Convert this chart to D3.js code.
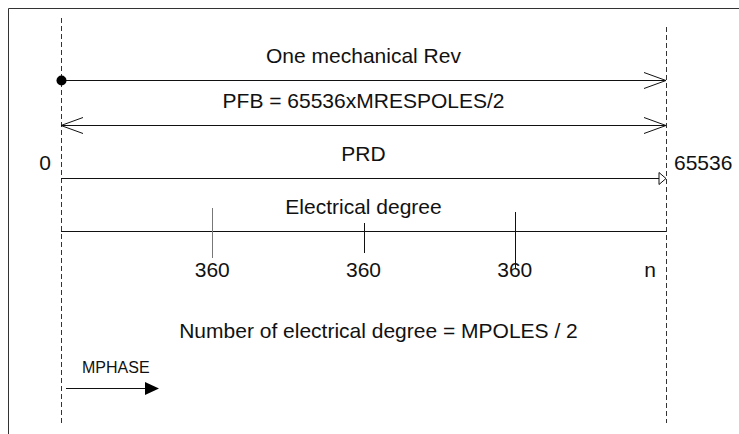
<!DOCTYPE html>
<html>
<head>
<meta charset="utf-8">
<script src="https://cdn.jsdelivr.net/npm/d3@7"></script>
<style>
  body { margin: 0; background: #fff; }
  text { font-family: "Liberation Sans", Arial, sans-serif; fill: #111; }
</style>
</head>
<body>
<div id="chart"></div>
<script>
// diagram content
var rowLabels = ["One mechanical Rev", "PFB = 65536xMRESPOLES/2", "PRD", "Electrical degree"];
var rangeEnds = [0, 65536];
var electricalTicks = [16384, 32768, 49152];
var tickLabels = ["360", "360", "360"];
var endLabel = "n";
var footNote = "Number of electrical degree = MPOLES / 2";
var phaseLabel = "MPHASE";

var width = 739,
    height = 434;

var svg = d3.select("#chart").append("svg")
    .attr("width", width)
    .attr("height", height);

var x = d3.scaleLinear()
    .domain(rangeEnds)
    .range([61, 666]);

// row line positions (px)
var rowY = [80, 125, 178, 231];

// frame (only top and left visible)
svg.append("path")
    .attr("d", "M8.5,434V8.5H739")
    .attr("fill", "none")
    .attr("stroke", "#333")
    .attr("stroke-width", 1);

// dashed guides at both ends of the range
svg.append("line")
    .attr("x1", x(rangeEnds[0]) + 0.5).attr("x2", x(rangeEnds[0]) + 0.5)
    .attr("y1", 18).attr("y2", 424)
    .attr("stroke", "#333").attr("stroke-dasharray", "5,3");
svg.append("line")
    .attr("x1", x(rangeEnds[1]) + 0.5).attr("x2", x(rangeEnds[1]) + 0.5)
    .attr("y1", 27).attr("y2", 423)
    .attr("stroke", "#333").attr("stroke-dasharray", "5,3");

// horizontal lines
svg.selectAll("line.row")
    .data(rowY)
    .enter().append("line")
    .attr("class", "row")
    .attr("x1", x(rangeEnds[0]))
    .attr("x2", x(rangeEnds[1]))
    .attr("y1", function(d) { return d + 0.5; })
    .attr("y2", function(d) { return d + 0.5; })
    .attr("stroke", "#111");

// row titles
svg.selectAll("text.row")
    .data(rowLabels)
    .enter().append("text")
    .attr("class", "row")
    .attr("x", x(d3.mean(rangeEnds)))
    .attr("y", function(d, i) { return rowY[i] - 17; })
    .attr("text-anchor", "middle")
    .style("font-size", "21px")
    .text(function(d) { return d; });

// start dot
svg.append("circle")
    .attr("cx", x(rangeEnds[0]) + 0.5)
    .attr("cy", rowY[0] + 0.5)
    .attr("r", 5)
    .attr("fill", "#000");

// open arrow heads
function chevron(tipX, y, dir) {
    var bx = tipX - dir * 22;
    svg.append("path")
        .attr("d", "M" + bx + "," + (y - 8) + "L" + tipX + "," + y + "L" + bx + "," + (y + 8))
        .attr("fill", "none")
        .attr("stroke", "#111");
}
chevron(x(rangeEnds[1]), rowY[0] + 0.5, 1);
chevron(x(rangeEnds[1]), rowY[1] + 0.5, 1);
chevron(x(rangeEnds[0]), rowY[1] + 0.5, -1);

// hollow triangle on PRD
var ty = rowY[2] + 0.5;
svg.append("path")
    .attr("d", "M" + (x(rangeEnds[1]) - 7) + "," + (ty - 6) + "L" + x(rangeEnds[1]) + "," + ty + "L" + (x(rangeEnds[1]) - 7) + "," + (ty + 6) + "Z")
    .attr("fill", "#fff")
    .attr("stroke", "#111");

// range end values
svg.append("text")
    .attr("x", 45).attr("y", 170)
    .attr("text-anchor", "middle")
    .style("font-size", "21px")
    .text(rangeEnds[0]);
svg.append("text")
    .attr("x", x(rangeEnds[1]) + 8).attr("y", 170)
    .style("font-size", "21px")
    .text(rangeEnds[1]);

// electrical degree ticks (hand-drawn, uneven extents)
var tickSpan = [[208, 258], [223, 253], [212, 268]];
var tickColor = ["#777", "#111", "#111"];
svg.selectAll("line.tick")
    .data(electricalTicks)
    .enter().append("line")
    .attr("class", "tick")
    .attr("x1", function(d) { return Math.round(x(d)) + 0.5; })
    .attr("x2", function(d) { return Math.round(x(d)) + 0.5; })
    .attr("y1", function(d, i) { return tickSpan[i][0]; })
    .attr("y2", function(d, i) { return tickSpan[i][1]; })
    .attr("stroke", function(d, i) { return tickColor[i]; });

svg.selectAll("text.tick")
    .data(electricalTicks)
    .enter().append("text")
    .attr("class", "tick")
    .attr("x", function(d) { return x(d); })
    .attr("y", 277)
    .attr("text-anchor", "middle")
    .style("font-size", "21px")
    .text(function(d, i) { return tickLabels[i]; });

svg.append("text")
    .attr("x", x(rangeEnds[1]) - 10).attr("y", 277)
    .attr("text-anchor", "end")
    .style("font-size", "21px")
    .text(endLabel);

// footnote
svg.append("text")
    .attr("x", x(d3.mean(rangeEnds)) + 15)
    .attr("y", 338)
    .attr("text-anchor", "middle")
    .style("font-size", "21px")
    .text(footNote);

// MPHASE arrow
svg.append("text")
    .attr("x", 82).attr("y", 373)
    .style("font-size", "16px")
    .text(phaseLabel);
svg.append("line")
    .attr("x1", x(rangeEnds[0]) + 5).attr("x2", 150)
    .attr("y1", 388.5).attr("y2", 388.5)
    .attr("stroke", "#111");
svg.append("path")
    .attr("d", "M145,382L159,388.5L145,395Z")
    .attr("fill", "#000");
</script>
</body>
</html>
